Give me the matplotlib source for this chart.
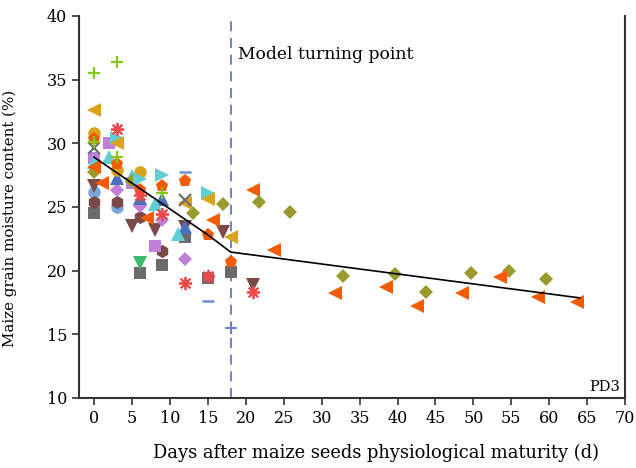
import matplotlib
matplotlib.use("Agg")
import matplotlib.pyplot as plt

plt.rcParams['font.family'] = ['DejaVu Serif']

# ---- data (days after physiological maturity, grain moisture %) ----
gold_circle_x = [0, 3, 6]
gold_circle_y = [30.8, 27.9, 27.7]

orange_pent_x = [0, 3, 6, 9, 12, 15, 18]
orange_pent_y = [30.3, 28.4, 26.3, 26.6, 27.0, 22.8, 20.7]

gray_x_x = [0, 12]
gray_x_y = [29.6, 25.5]

purple_sq_x = [0, 2, 5, 8]
purple_sq_y = [28.8, 30.0, 26.9, 21.9]

cyan_up_x = [0, 2, 5, 8, 11]
cyan_up_y = [28.5, 28.9, 27.4, 25.2, 22.9]

cyan_right_x = [3, 6, 9, 15]
cyan_right_y = [30.4, 27.2, 27.5, 26.1]

gold_left_x = [0, 3, 12, 15, 18]
gold_left_y = [32.6, 30.0, 25.3, 25.6, 22.6]

orange_left_x = [0, 1, 7, 15.7, 21, 23.7, 31.7, 38.5, 42.6, 48.5, 53.5, 58.5, 63.6]
orange_left_y = [28.1, 26.9, 24.1, 24.0, 26.3, 21.6, 18.2, 18.7, 17.2, 18.2, 19.5, 17.9, 17.5]

olive_d_x = [0, 5, 13, 17, 21.8, 25.8, 32.8, 39.7, 43.8, 49.7, 54.7, 59.6]
olive_d_y = [27.7, 27.0, 24.5, 25.2, 25.4, 24.6, 19.6, 19.7, 18.3, 19.8, 20.0, 19.3]

brown_v_x = [0, 5, 8, 12, 17, 21]
brown_v_y = [26.6, 23.5, 23.2, 23.4, 23.0, 18.9]

brown_hex_x = [0, 3, 6, 9]
brown_hex_y = [25.4, 25.4, 24.2, 21.5]

blue_circle_x = [0, 3]
blue_circle_y = [26.2, 25.0]

gray_sq_x = [0, 6, 9, 12, 15, 18]
gray_sq_y = [24.5, 19.8, 20.4, 22.6, 19.4, 19.9]

purple_d_x = [3, 6, 9, 12]
purple_d_y = [26.3, 25.1, 24.0, 20.9]

blue_up_x = [3, 6, 9, 12]
blue_up_y = [27.3, 25.7, 25.6, 23.4]

red_star_x = [3, 6, 9, 12, 15, 21]
red_star_y = [31.1, 25.9, 24.4, 19.0, 19.6, 18.3]

green_plus_x = [0, 3, 0, 3, 9]
green_plus_y = [35.5, 36.4, 30.1, 28.9, 26.1]

blue_hline_x = [12, 15]
blue_hline_y = [27.7, 17.6]

blue_plus_x = [18]
blue_plus_y = [15.5]

green_v_x = [6]
green_v_y = [20.6]

# piecewise model line
model_x = [0, 15, 18, 64]
model_y = [28.9, 22.8, 21.45, 17.85]

turning_day = 18

xticks = list(range(0, 71, 5))
yticks = list(range(10, 41, 5))

# ---- figure ----
fig = plt.figure(figsize=(6.36, 4.68), dpi=100)
ax = fig.add_axes([0.124, 0.150, 0.859, 0.816])

ms = 9.5
series = [
    (gray_sq_x, gray_sq_y, 's', '#6b6b6b', ms * 0.85),
    (blue_circle_x, blue_circle_y, 'o', '#7aa6dc', ms * 0.95),
    (brown_hex_x, brown_hex_y, 'h', '#7b4a48', ms),
    (brown_v_x, brown_v_y, 'v', '#7b4a48', ms),
    (green_v_x, green_v_y, 'v', '#3cb96a', ms),
    (purple_d_x, purple_d_y, 'D', '#c07fd8', ms * 0.8),
    (blue_up_x, blue_up_y, '^', '#4a70c0', ms),
    (purple_sq_x, purple_sq_y, 's', '#c07fd8', ms * 0.85),
    (cyan_up_x, cyan_up_y, '^', '#5fcfd4', ms),
    (olive_d_x, olive_d_y, 'D', '#9a9a2f', ms * 0.8),
    (gold_circle_x, gold_circle_y, 'o', '#d9a31d', ms * 0.95),
    (orange_pent_x, orange_pent_y, 'p', '#f25c05', ms),
    (cyan_right_x, cyan_right_y, '>', '#5fcfd4', ms),
    (gold_left_x, gold_left_y, '<', '#d9a31d', ms),
    (orange_left_x, orange_left_y, '<', '#f25c05', ms),
]
for xs, ys, mk, col, size in series:
    ax.plot(xs, ys, linestyle='none', marker=mk, color=col, markersize=size,
            markeredgewidth=0, zorder=3)

line_series = [
    (gray_x_x, gray_x_y, 'x', '#707070', ms * 0.85, 1.6),
    (red_star_x, red_star_y, (8, 2, 0), '#f04848', ms * 1.0, 1.3),
    (green_plus_x, green_plus_y, '+', '#86c91a', ms * 0.85, 1.6),
    (blue_hline_x, blue_hline_y, '_', '#6f8fd8', ms * 0.85, 1.8),
    (blue_plus_x, blue_plus_y, '+', '#6f7fd0', ms * 0.85, 1.5),
]
for xs, ys, mk, col, size, mew in line_series:
    ax.plot(xs, ys, linestyle='none', marker=mk, color=col, markersize=size,
            markeredgewidth=mew, zorder=3)

ax.plot(model_x, model_y, color='black', linewidth=1.2, zorder=4)
ax.axvline(turning_day, color='#5b6bc8', linestyle=(0, (6, 4)), linewidth=1.2, zorder=2)

ax.text(19, 37.0, 'Model turning point', fontsize=12.3, ha='left', va='center')
ax.text(69.3, 10.3, 'PD3', fontsize=10.5, ha='right', va='bottom')

ax.set_xlim(-2, 70)
ax.set_ylim(10, 40)
ax.set_xticks(xticks)
ax.set_yticks(yticks)
ax.tick_params(axis='both', direction='out', length=5, width=1.2, labelsize=11.5,
               color='#333333')
for side in ['left', 'bottom', 'right']:
    ax.spines[side].set_linewidth(1.5)
    ax.spines[side].set_color('#333333')
ax.spines['top'].set_visible(False)

ax.set_xlabel('Days after maize seeds physiological maturity (d)', fontsize=12.9)
ax.set_ylabel('Maize grain moisture content (%)', fontsize=10.8)
ax.xaxis.set_label_coords(0.544, -0.12)
ax.yaxis.set_label_coords(-0.113, 0.47)

fig.savefig('out.png', dpi=100)
